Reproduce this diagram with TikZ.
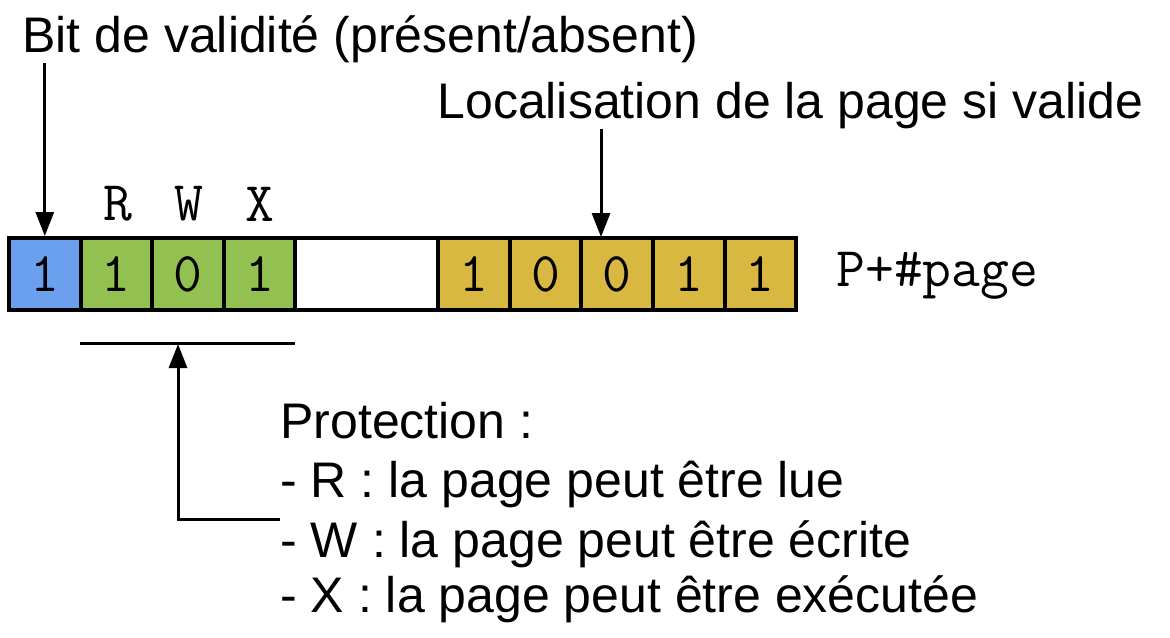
\documentclass[tikz,border=0pt]{standalone}
\usepackage{fontspec}
\setmainfont{Liberation Sans}
\usetikzlibrary{arrows.meta}
\definecolor{validblue}{RGB}{106,160,238}
\definecolor{protgreen}{RGB}{146,193,82}
\definecolor{pagegold}{RGB}{216,184,64}

\begin{document}
\begin{tikzpicture}[x=0.5pt, y=-0.5pt,
    every node/.style={inner sep=0pt, font=\fontsize{25}{30}\selectfont},
    mono/.style={font=\fontsize{28}{30}\selectfont\ttfamily},
    cell/.style={draw, line width=2pt, minimum width=35.8pt, minimum height=36pt, mono},
    arr/.style={line width=1.5pt, -{Triangle[length=12pt,width=9pt]}}]
    \useasboundingbox (0,0) rectangle (1170,637);
    % page table entry
    \node[cell, fill=validblue] (v) at (44.8,274) {1};
    \node[cell, fill=protgreen] (r) at (116.4,274) {1};
    \node[cell, fill=protgreen] (w) at (188,274) {0};
    \node[cell, fill=protgreen] (x) at (259.6,274) {1};
    \node[cell, minimum width=71.6pt] (blank) at (366.8,274) {};
    \node[cell, fill=pagegold] (p1) at (474,274) {1};
    \node[cell, fill=pagegold] (p2) at (545.6,274) {0};
    \node[cell, fill=pagegold] (p3) at (617.2,274) {0};
    \node[cell, fill=pagegold] (p4) at (688.8,274) {1};
    \node[cell, fill=pagegold] (p5) at (760.4,274) {1};
    \node[anchor=west, mono] (entry) at (836,276) {P+\#page};
    % bit names
    \node[mono] (rl) at (118,204) {R};
    \node[mono] (wl) at (189,204) {W};
    \node[mono] (xl) at (260,204) {X};
    % labels
    \node[anchor=base west] (bit) at (22,52) {Bit de validité (présent/absent)};
    \node[anchor=base west] (loc) at (437,118) {Localisation de la page si valide};
    \node[anchor=base west] (prot) at (280,438) {Protection :};
    \node[anchor=base west] (protR) at (280,497) {- R : la page peut être lue};
    \node[anchor=base west] (protW) at (280,557) {- W : la page peut être écrite};
    \node[anchor=base west] (protX) at (280,612) {- X : la page peut être exécutée};
    % arrows
    \coordinate (locpt) at (601,237);
    \coordinate (rwxL) at (80,343);
    \coordinate (rwxR) at (295,343);
    \coordinate (rwxpt) at (178,344);
    \draw[line width=1.5pt] (rwxL) -- (rwxR);
    \draw[arr] (bit.south -| v.north) -- (v.north);
    \draw[arr] (loc.south -| locpt) -- (locpt);
    \draw[arr] (protW.north west) -| (rwxpt);
\end{tikzpicture}
\end{document}
